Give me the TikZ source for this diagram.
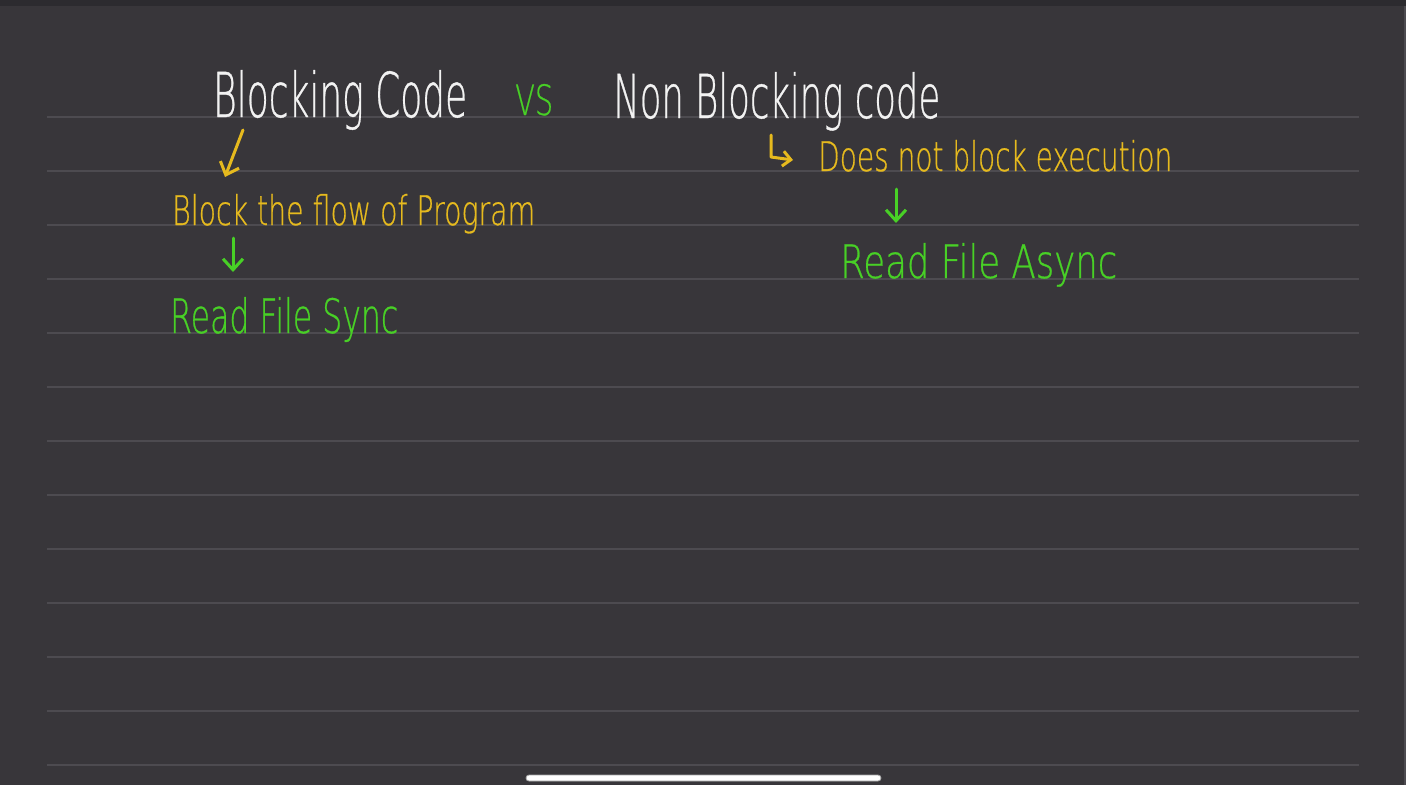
\documentclass[tikz,border=0pt]{standalone}
\usepackage{fontspec}
\setmainfont{DejaVu Sans}[UprightFont={* ExtraLight}, UprightFeatures={FakeBold=0.7}]
\usetikzlibrary{arrows.meta}
\definecolor{bg}{HTML}{38363A}
\definecolor{topbar}{HTML}{2C2B2F}
\definecolor{ruleline}{HTML}{4D4B50}
\definecolor{inkwhite}{HTML}{F2F2F2}
\definecolor{inkyellow}{HTML}{E6BA1E}
\definecolor{inkgreen}{HTML}{48D026}
\tikzset{
  hw/.style={inner sep=0pt, anchor=base west},
  rulestyle/.style={draw=ruleline, line width=2.2pt},
  hwarrow/.style={line width=3pt, line cap=round, line join=round,
    -{Straight Barb[length=11pt,width=20pt,line width=3pt]}},
}
\begin{document}
\begin{tikzpicture}[x=1pt,y=-1pt]
\fill[bg] (0,0) rectangle (1406,785);
\useasboundingbox (0,0) rectangle (1406,785);
\fill[topbar] (0,0) rectangle (1406,6);
\draw[ruleline, line width=1.5pt] (1405,6) -- (1405,785);
\foreach \y in {117,171,225,279,333,387,441,495,549,603,657,711,765}
  \draw[rulestyle] (47,\y) -- (1359,\y);

% headings
\node[hw, text=inkwhite] (blk) at (213,117) {\resizebox{254pt}{47pt}{Blocking Code}};
\node[hw, text=inkgreen] (vs) at (515,115) {\resizebox{38pt}{31pt}{VS}};
\node[hw, text=inkwhite] (nblk) at (613,118) {\resizebox{327pt}{46pt}{Non Blocking code}};

% left column
\node[hw, text=inkyellow] (flow) at (172,225) {\resizebox{363pt}{31pt}{Block the flow of Program}};
\node[hw, text=inkgreen] (sync) at (170,333) {\resizebox{228pt}{36pt}{Read File Sync}};

% right column
\node[hw, text=inkyellow] (exec) at (818,171) {\resizebox{354pt}{31pt}{Does not block execution}};
\node[hw, text=inkgreen] (async) at (840,278) {\resizebox{277pt}{35pt}{Read File Async}};

% connectors
\coordinate (a1s) at (243,130);
\coordinate (a1e) at (225,177);
\draw[hwarrow, draw=inkyellow] (a1s) -- (a1e);

\coordinate (a2s) at (233,238);
\coordinate (a2e) at (233,272);
\draw[hwarrow, draw=inkgreen] (a2s) -- (a2e);

\coordinate (h1s) at (771,135);
\coordinate (h1m) at (771,157);
\coordinate (h1e) at (793,160);
\draw[hwarrow, draw=inkyellow, -{Straight Barb[length=8pt,width=15pt,line width=3pt]}] (h1s) -- (h1m) -- (h1e);

\coordinate (a3s) at (896,189);
\coordinate (a3e) at (896,223);
\draw[hwarrow, draw=inkgreen] (a3s) -- (a3e);

% home indicator
\draw[fill=white, draw=gray!70, line width=0.8pt, rounded corners=3pt] (526,775) rectangle (881,781);
\end{tikzpicture}
\end{document}
